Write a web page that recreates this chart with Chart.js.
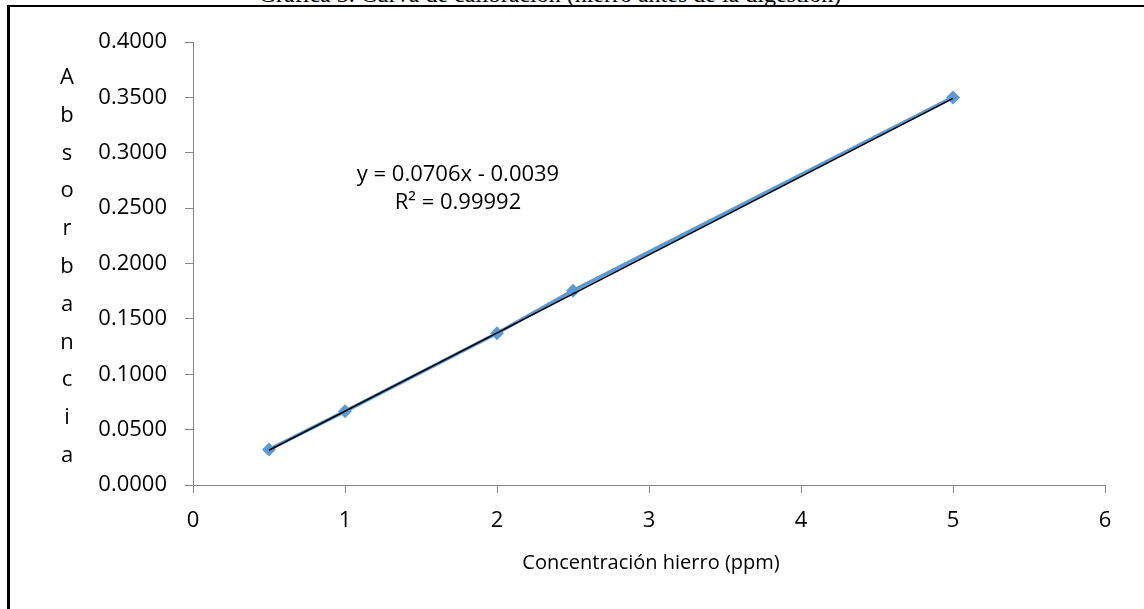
<!DOCTYPE html>
<html>
<head>
<meta charset="utf-8">
<script src="https://cdn.jsdelivr.net/npm/chart.js@4.4.1/dist/chart.umd.min.js"></script>
<style>
  html, body { margin:0; padding:0; background:#fff; width:1144px; height:609px; overflow:hidden; }
  #frame { position:absolute; left:7px; top:5px; width:1300px; height:800px; border-top:2px solid #000; border-left:3px solid #000; }
  #cv { position:absolute; left:0; top:0; }
  .txt { position:absolute; font-family:'Open Sans', sans-serif; color:#000; white-space:nowrap; }
  #title { position:absolute; left:0; top:-18px; width:1100px; text-align:center; font-family:'Liberation Serif', serif; font-size:24px; line-height:24px; color:#000; white-space:nowrap; }
  #ytitle { left:50px; top:57px; width:34px; text-align:center; font-size:22px; line-height:37.8px; }
  #xtitle { left:451px; top:547px; width:400px; text-align:center; font-size:20px; line-height:30px; }
  #eq { left:308px; top:158px; width:300px; text-align:center; font-size:22px; line-height:28px; }
</style>
</head>
<body>
<div id="title">Gráfica 3. Curva de calibración (hierro antes de la digestión)</div>
<div id="frame"></div>
<canvas id="cv" width="1144" height="609"></canvas>
<div id="ytitle" class="txt"></div>
<div id="xtitle" class="txt"></div>
<div id="eq" class="txt"></div>
<script>
// ---- data ----
const concentration = [0.5, 1, 2, 2.5, 5];               // ppm
const absorbance    = [0.0320, 0.0665, 0.1370, 0.1755, 0.3500];
const trendX        = [0.5, 5];
const trendY        = [0.0314, 0.3491];
const xTicksMin = 0, xTicksMax = 6, xStep = 1;
const yTicksMin = 0, yTicksMax = 0.4, yStep = 0.05;
const xAxisTitle = 'Concentración hierro (ppm)';
const yAxisTitle = 'Absorbancia';
const equationLines = ['y = 0.0706x - 0.0039', 'R² = 0.99992'];

document.getElementById('ytitle').innerHTML = yAxisTitle.split('').join('<br>');
document.getElementById('xtitle').textContent = xAxisTitle;
document.getElementById('eq').innerHTML = equationLines.join('<br>');

const seriesPts = concentration.map((x, i) => ({x, y: absorbance[i]}));
const trendPts = trendX.map((x, i) => ({x, y: trendY[i]}));

const tickFont = {family:'Open Sans', size:22};
new Chart(document.getElementById('cv'), {
  type: 'scatter',
  data: {
    datasets: [
      { label:'Lineal', data: trendPts, showLine:true, borderColor:'#000', borderWidth:1.5,
        pointRadius:0, order:0 },
      { label:'Absorbancia', data: seriesPts, showLine:true, borderColor:'#5B9BD5', borderWidth:3.5,
        backgroundColor:'#5B9BD5', pointStyle:'rectRot', pointRadius:7, pointBorderWidth:0, order:1 }
    ]
  },
  options: {
    responsive:false, animation:false, devicePixelRatio:1,
    layout:{ padding:{ left:0, right:39, top:42, bottom:0 } },
    plugins:{ legend:{display:false}, tooltip:{enabled:false}, title:{display:false} },
    scales:{
      x:{ type:'linear', min:xTicksMin, max:xTicksMax,
          afterFit(s){ s.height = 124; },
          ticks:{ stepSize:xStep, font:tickFont, color:'#000', padding:15, maxRotation:0 },
          grid:{ drawOnChartArea:false, drawTicks:true, tickLength:8, color:'#868686' },
          border:{ display:true, color:'#868686', width:1 } },
      y:{ type:'linear', min:yTicksMin, max:yTicksMax,
          afterFit(s){ s.width = 193; },
          ticks:{ stepSize:yStep, font:tickFont, color:'#000', padding:18,
                  callback:v => Number(v).toFixed(4) },
          grid:{ drawOnChartArea:false, drawTicks:true, tickLength:8, color:'#868686' },
          border:{ display:true, color:'#868686', width:1 } }
    }
  }
});
</script>
</body>
</html>
